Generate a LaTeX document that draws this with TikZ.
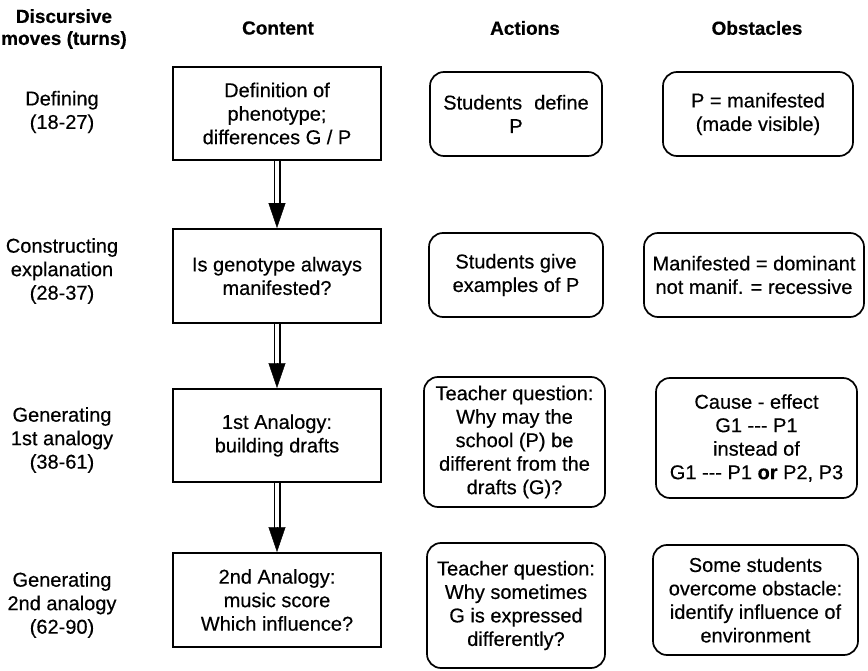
\documentclass[tikz,border=0pt]{standalone}
\usepackage{fontspec}
\setmainfont{Liberation Sans}[FakeBold=0.4]
\usetikzlibrary{calc,arrows.meta}
\begin{document}
\begin{tikzpicture}[x=1pt,y=-1pt,
  every node/.style={font=\fontsize{20}{23.5}\selectfont, align=center, inner sep=0pt},
  hdr/.style={font=\fontsize{19}{22}\selectfont\bfseries},
  cbox/.style={draw, line width=1.9pt, minimum width=208pt},
  rbox/.style={draw, line width=1.7pt, rounded corners=14pt},
  shaft/.style={double, double distance=3.4pt, line width=1.8pt},
  head/.style={-{Triangle[length=25pt,width=17pt]}, line width=0.4pt}
]
\useasboundingbox (0,0) rectangle (868,671);

% headers
\node[hdr] (h0) at (64,29) {Discursive\\moves (turns)};
\node[hdr] (h1) at (278,28) {Content};
\node[hdr] (h2) at (525,28) {Actions};
\node[hdr] (h3) at (757,28) {Obstacles};

% left labels
\node (l1) at (62,112) {Defining\\(18-27)};
\node (l2) at (62,271) {Constructing\\explanation\\(28-37)};
\node (l3) at (62,440) {Generating\\1st analogy\\(38-61)};
\node (l4) at (62,605) {Generating\\2nd analogy\\(62-90)};

% content boxes
\node[cbox, minimum height=93pt] (c1) at (277,113.5) {Definition of\\phenotype;\\differences G / P};
\node[cbox, minimum height=94pt] (c2) at (277,276) {Is genotype always\\manifested?};
\node[cbox, minimum height=93pt] (c3) at (277,435.5) {1st Analogy:\\building drafts};
\node[cbox, minimum height=94pt] (c4) at (277,600) {2nd Analogy:\\music score\\Which influence?};

% actions boxes
\node[rbox, minimum width=172pt, minimum height=84pt] (a1) at (516,114) {Students\hspace{12pt}define\\P};
\node[rbox, minimum width=174pt, minimum height=84pt] (a2) at (516,275) {Students give\\examples of P};
\node[rbox, minimum width=181pt, minimum height=130pt] (a3) at (514.5,442) {Teacher question:\\Why may the\\school (P) be\\different from the\\drafts (G)?};
\node[rbox, minimum width=178pt, minimum height=125pt] (a4) at (516,605.5) {Teacher question:\\Why sometimes\\G is expressed\\differently?};

% obstacles boxes
\node[rbox, minimum width=190pt, minimum height=84pt] (o1) at (758,114) {P = manifested\\(made visible)};
\node[rbox, minimum width=220pt, minimum height=84pt] (o2) at (754,275) {Manifested = dominant\\not manif. = recessive};
\node[rbox, minimum width=201pt, minimum height=120pt] (o3) at (756.5,438) {Cause - effect\\G1 -{}-{}- P1\\instead of\\G1 -{}-{}- P1 \textbf{or} P2, P3};
\node[rbox, minimum width=205pt, minimum height=110pt] (o4) at (755.5,600) {Some students\\overcome obstacle:\\identify influence of\\environment};

% arrows
\foreach \s/\t in {c1/c2, c2/c3, c3/c4}{
  \draw[shaft] (\s.south) -- ($(\t.north)+(0,-23)$);
  \draw[head] ($(\t.north)+(0,-25)$) -- (\t.north);
}
\end{tikzpicture}
\end{document}
